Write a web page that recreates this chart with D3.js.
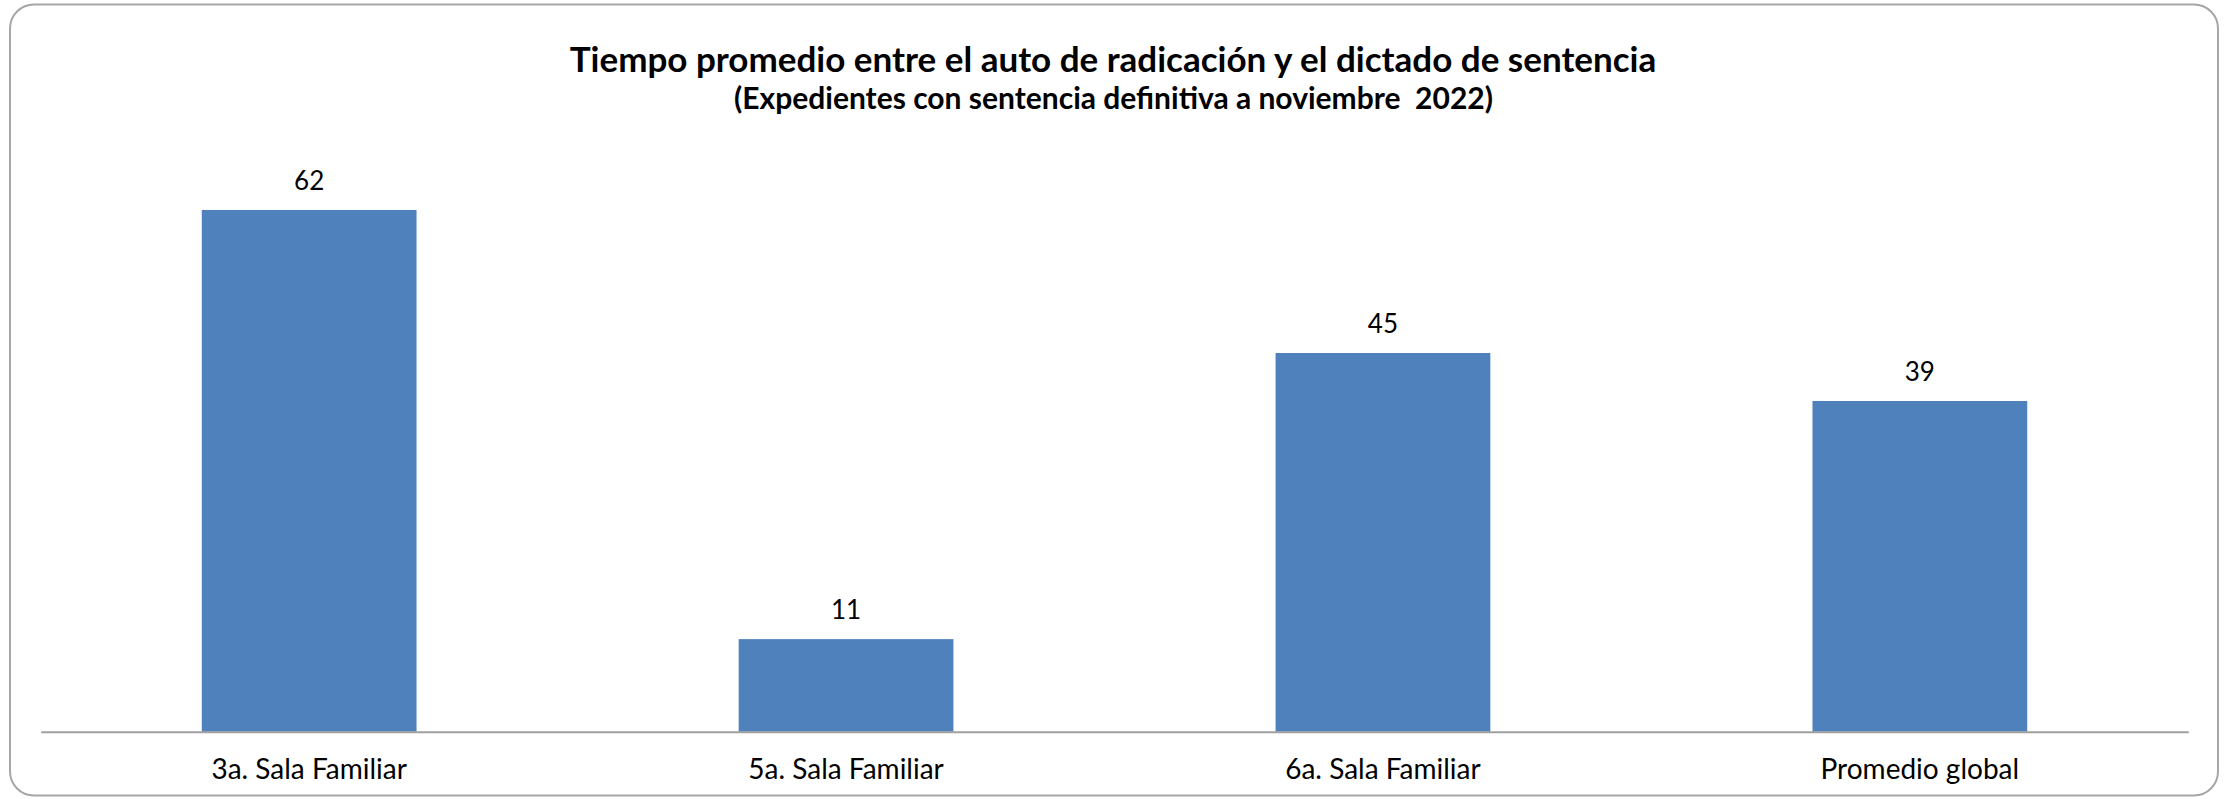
<!DOCTYPE html>
<html>
<head>
<meta charset="utf-8">
<script src="https://cdn.jsdelivr.net/npm/d3@7/dist/d3.min.js"></script>
<style>
  html, body { margin: 0; padding: 0; background: #ffffff; }
  svg { display: block; }
  text { font-family: Lato, "Open Sans", "DejaVu Sans", sans-serif; fill: #000000; }
</style>
</head>
<body>
<svg id="chart" width="2224" height="799"></svg>
<script>
const categories = ["3a. Sala Familiar", "5a. Sala Familiar", "6a. Sala Familiar", "Promedio global"];
const values = [62, 11, 45, 39.3];
const titleText = "Tiempo promedio entre el auto de radicación y el dictado de sentencia";
const subtitleText = "(Expedientes con sentencia definitiva a noviembre  2022)";

const svg = d3.select("#chart");
const fmt = d3.format(".0f");

// outer rounded frame
svg.append("rect")
  .attr("x", 10).attr("y", 4.5)
  .attr("width", 2208).attr("height", 791)
  .attr("rx", 24).attr("ry", 24)
  .attr("fill", "#ffffff")
  .attr("stroke", "#a6a6a6")
  .attr("stroke-width", 2);

const plotLeft = 40.7, plotRight = 2188.3, baseY = 731.7;

const x = d3.scaleBand()
  .domain(categories)
  .range([plotLeft, plotRight])
  .paddingInner(0.6)
  .paddingOuter(0.3);

const y = d3.scaleLinear()
  .domain([0, 70])
  .range([baseY, baseY - 70 * 8.415]);

// bars
svg.append("g").selectAll("rect")
  .data(categories)
  .join("rect")
  .attr("x", d => x(d))
  .attr("y", (d, i) => y(values[i]))
  .attr("width", x.bandwidth())
  .attr("height", (d, i) => y(0) - y(values[i]))
  .attr("fill", "#4f81bd");

// value labels
svg.append("g").selectAll("text")
  .data(categories)
  .join("text")
  .attr("x", d => x(d) + x.bandwidth() / 2)
  .attr("y", (d, i) => y(values[i]) - 20)
  .attr("text-anchor", "middle")
  .style("font-size", "26px")
  .text((d, i) => fmt(values[i]));

// x axis
const xAxis = d3.axisBottom(x).tickSize(0).tickPadding(0);
const gx = svg.append("g")
  .attr("transform", `translate(0,${baseY})`)
  .call(xAxis);
gx.select(".domain").attr("stroke", "#a0a0a0").attr("stroke-width", 2);
gx.selectAll(".tick text")
  .attr("dy", null)
  .attr("y", 47.5)
  .style("font-size", "28px")
  .style("font-family", "Lato, 'Open Sans', sans-serif")
  .attr("fill", "#000");

// titles
svg.append("text")
  .attr("x", 1113).attr("y", 71.5)
  .attr("text-anchor", "middle")
  .style("font-size", "35px")
  .style("font-weight", "bold")
  .text(titleText);
svg.append("text")
  .attr("x", 1113.5).attr("y", 109)
  .attr("text-anchor", "middle")
  .style("font-size", "30px")
  .style("font-weight", "bold")
  .style("white-space", "pre")
  .attr("xml:space", "preserve")
  .text(subtitleText);
</script>
</body>
</html>
